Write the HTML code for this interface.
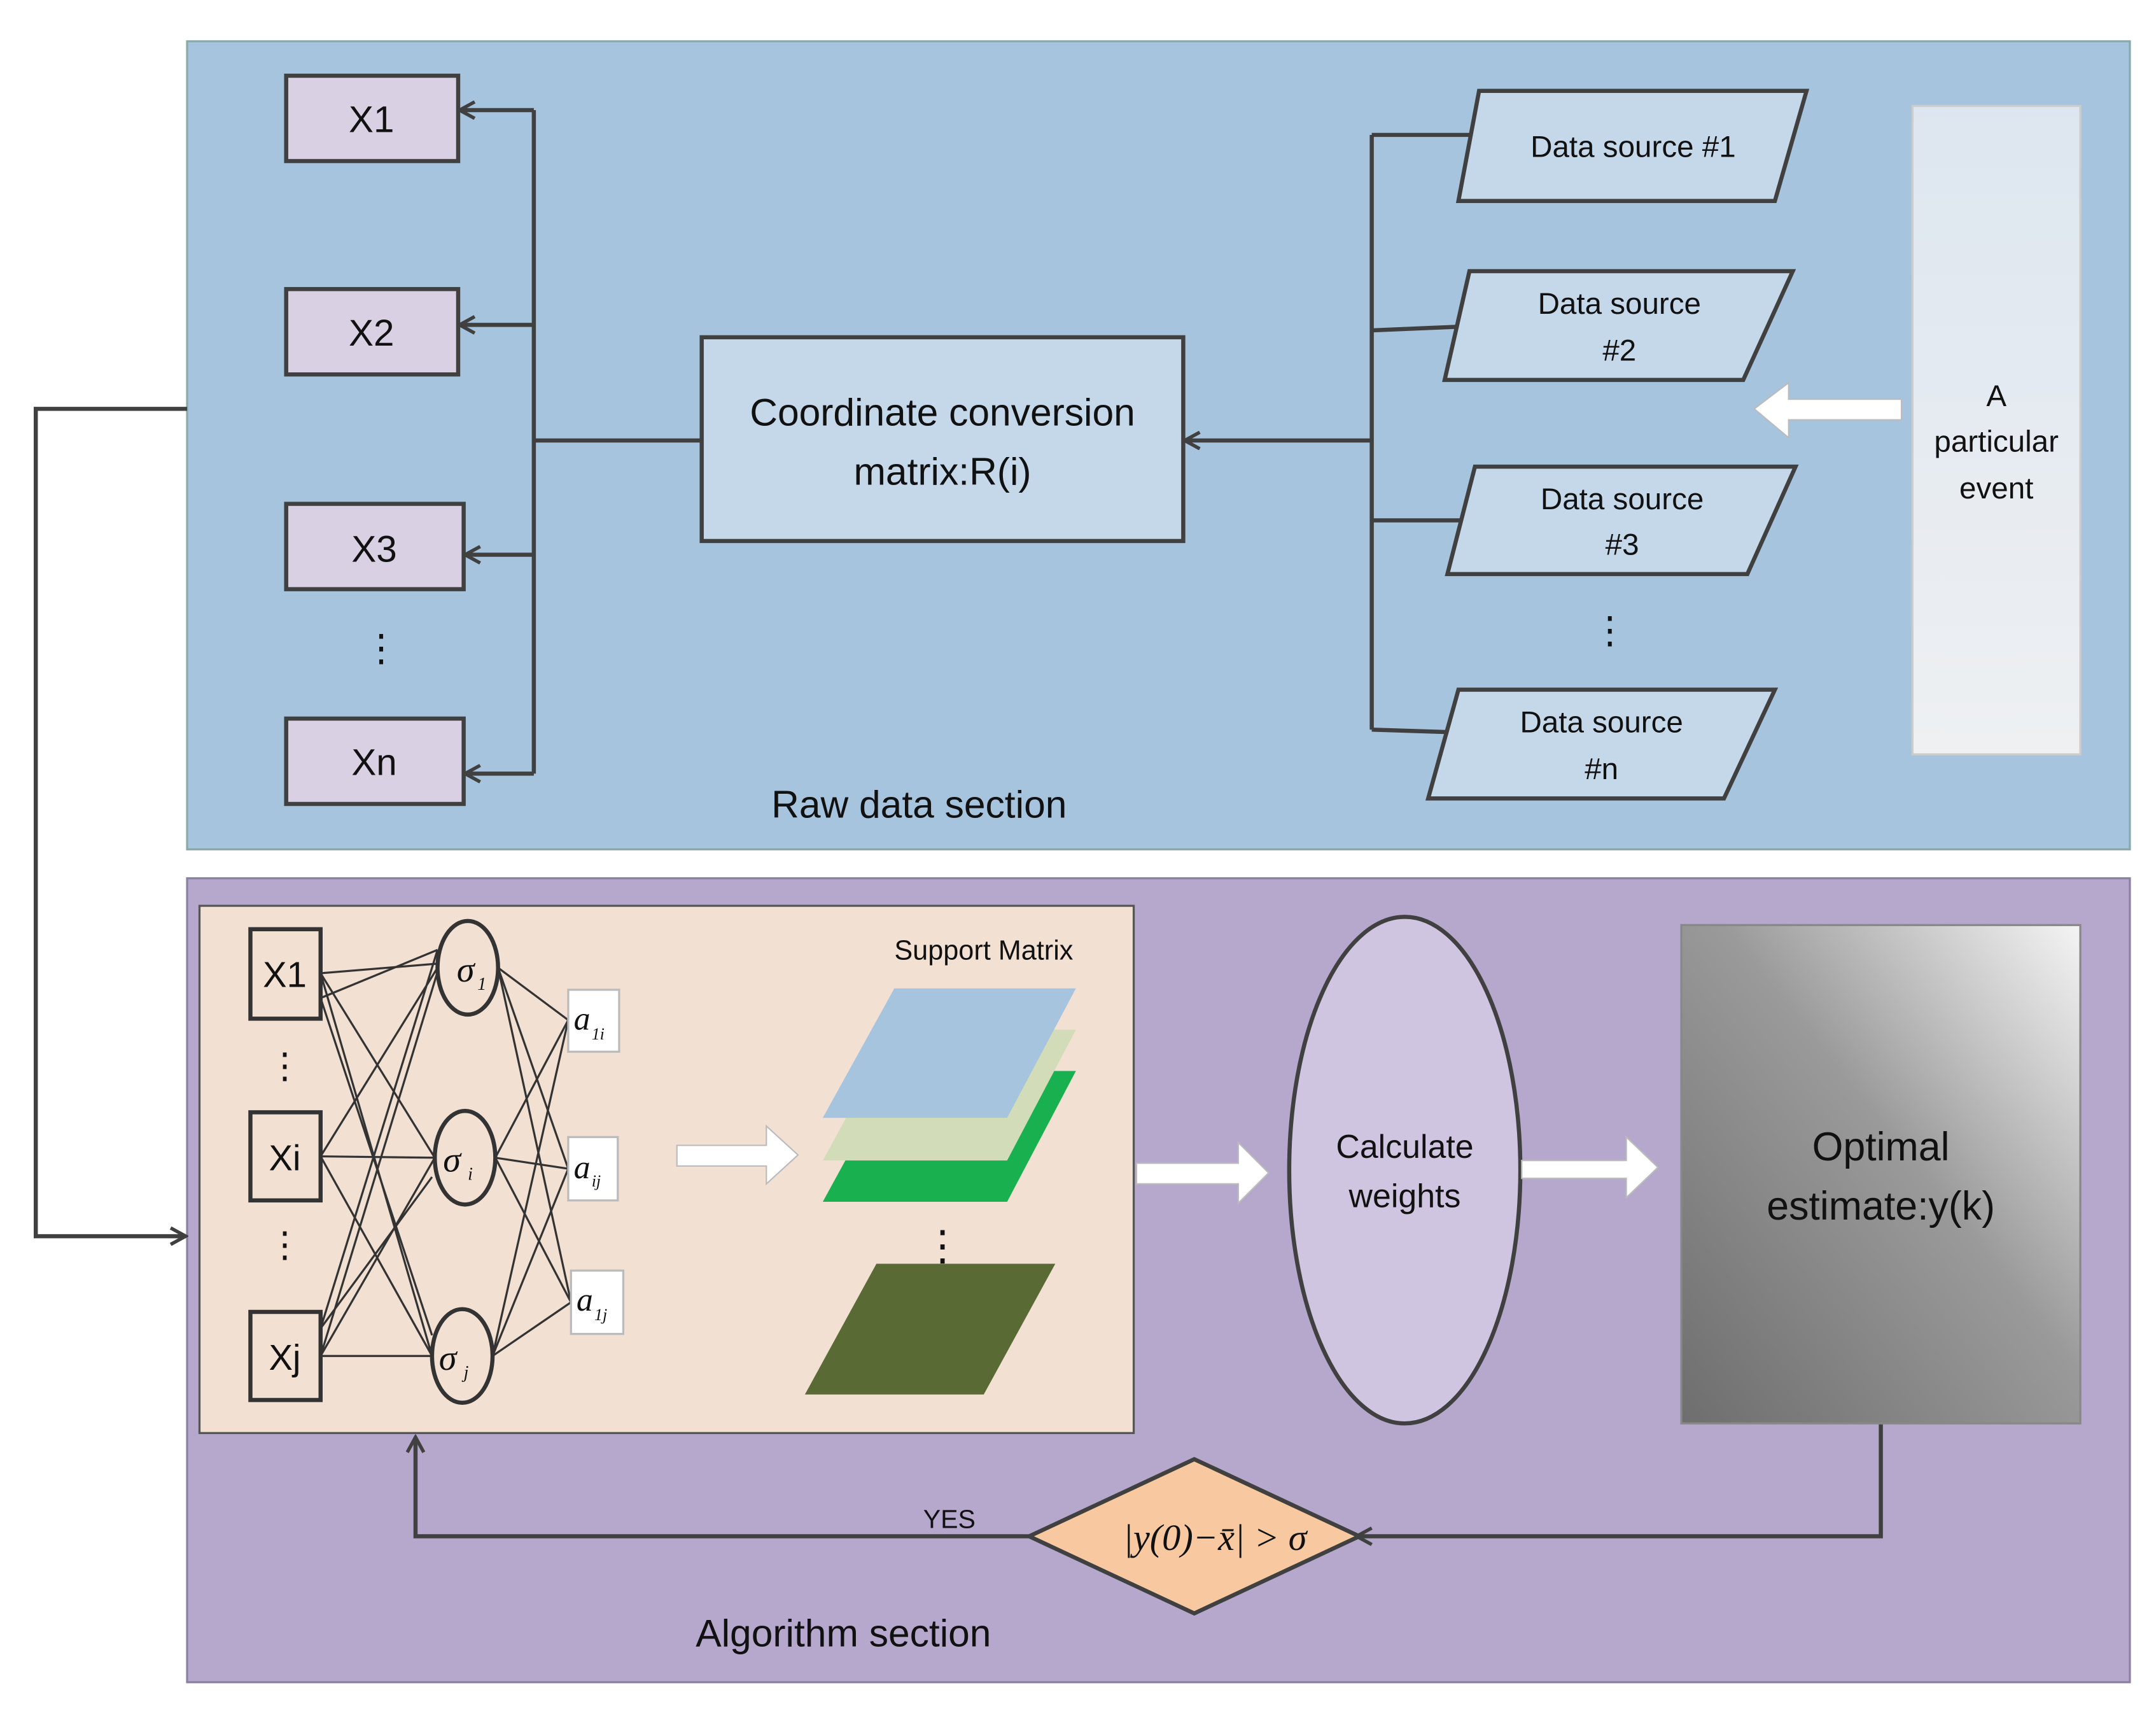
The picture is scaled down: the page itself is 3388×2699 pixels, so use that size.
<!DOCTYPE html>
<html><head><meta charset="utf-8"><style>html,body{margin:0;padding:0;background:#fff}svg{display:block}</style></head>
<body>
<svg width="3388" height="2699" viewBox="0 0 1567 1248" preserveAspectRatio="none" xmlns="http://www.w3.org/2000/svg" font-family="Liberation Sans, sans-serif">
<defs>
<linearGradient id="ev" x1="0" y1="0" x2="0" y2="1"><stop offset="0" stop-color="#dde6f0"/><stop offset="1" stop-color="#eef0f2"/></linearGradient>
<linearGradient id="op" x1="1" y1="0" x2="0" y2="1"><stop offset="0" stop-color="#f4f4f4"/><stop offset="0.45" stop-color="#9a9a9a"/><stop offset="1" stop-color="#6e6e6e"/></linearGradient>
<marker id="ah" markerWidth="14" markerHeight="14" refX="12" refY="7" orient="auto" markerUnits="userSpaceOnUse"><path d="M1,1 L12,7 L1,13" fill="none" stroke="#404040" stroke-width="2.5"/></marker>
</defs>
<rect x="136" y="30" width="1412" height="587" fill="#a7c4de" stroke="#8aa" stroke-width="1.5"/>
<rect x="136" y="638" width="1412" height="584" fill="#b5a8cc" stroke="#8a80a0" stroke-width="1.5"/>
<g stroke="#404040" stroke-width="3" fill="none">
<line x1="388" y1="80" x2="388" y2="562"/>
<line x1="388" y1="80" x2="334" y2="80" marker-end="url(#ah)"/>
<line x1="388" y1="236" x2="334" y2="236" marker-end="url(#ah)"/>
<line x1="388" y1="403" x2="338" y2="403" marker-end="url(#ah)"/>
<line x1="388" y1="562" x2="338" y2="562" marker-end="url(#ah)"/>
<line x1="388" y1="320" x2="510" y2="320"/>
<line x1="997" y1="320" x2="861" y2="320" marker-end="url(#ah)"/>
<line x1="997" y1="98" x2="997" y2="530"/>
<line x1="997" y1="98" x2="1075" y2="98"/>
<line x1="997" y1="240" x2="1068" y2="237"/>
<line x1="997" y1="378" x2="1070" y2="378"/>
<line x1="997" y1="530" x2="1058" y2="532"/>
<polyline points="136,297 26,297 26,898 135,898" marker-end="url(#ah)"/>
<polyline points="1367,1034 1367,1116 986,1116" marker-end="url(#ah)"/>
<polyline points="748,1116 302,1116 302,1044" marker-end="url(#ah)"/>
</g>
<g fill="#d9d0e3" stroke="#404040" stroke-width="3">
<rect x="208" y="55" width="125" height="62"/><rect x="208" y="210" width="125" height="62"/>
<rect x="208" y="366" width="129" height="62"/><rect x="208" y="522" width="129" height="62"/>
</g>
<g font-size="27" text-anchor="middle" fill="#111">
<text x="270" y="96">X1</text><text x="270" y="251">X2</text><text x="272" y="408">X3</text><text x="272" y="563">Xn</text>
<text x="277" y="480">⋮</text><text x="1170" y="467">⋮</text>
</g>
<rect x="510" y="245" width="350" height="148" fill="#c5d8ea" stroke="#404040" stroke-width="3"/>
<text x="685" y="309" font-size="28" text-anchor="middle" fill="#111">Coordinate conversion</text>
<text x="685" y="352" font-size="28" text-anchor="middle" fill="#111">matrix:R(i)</text>
<g fill="#c5d8ea" stroke="#404040" stroke-width="3">
<polygon points="1075,66 1313,66 1290,146 1060,146"/>
<polygon points="1068,197 1303,197 1267,276 1050,276"/>
<polygon points="1072,339 1305,339 1270,417 1052,417"/>
<polygon points="1060,501 1290,501 1253,580 1038,580"/>
</g>
<g font-size="22" text-anchor="middle" fill="#111">
<text x="1187" y="114">Data source #1</text>
<text x="1177" y="228">Data source</text><text x="1177" y="262">#2</text>
<text x="1179" y="370">Data source</text><text x="1179" y="403">#3</text>
<text x="1164" y="532">Data source</text><text x="1164" y="566">#n</text>
</g>
<rect x="1390" y="77" width="122" height="471" fill="url(#ev)" stroke="#ccc" stroke-width="1.5"/>
<g font-size="22" text-anchor="middle" fill="#111">
<text x="1451" y="295">A</text><text x="1451" y="328">particular</text><text x="1451" y="362">event</text>
</g>
<polygon points="1382,290 1300,290 1300,278 1275,297 1300,318 1300,305 1382,305" fill="#fff" stroke="#bbb" stroke-width="1"/>
<text x="668" y="594" font-size="28" text-anchor="middle" fill="#111">Raw data section</text>

<rect x="145" y="658" width="679" height="383" fill="#f2e0d3" stroke="#555" stroke-width="1.5"/>
<g stroke="#333" stroke-width="1.5">
<line x1="233" y1="707" x2="318" y2="700"/><line x1="233" y1="707" x2="316" y2="841"/><line x1="233" y1="707" x2="314" y2="985"/>
<line x1="233" y1="840" x2="318" y2="703"/><line x1="233" y1="840" x2="316" y2="841"/><line x1="233" y1="840" x2="314" y2="985"/>
<line x1="233" y1="985" x2="318" y2="706"/><line x1="233" y1="985" x2="316" y2="841"/><line x1="233" y1="985" x2="314" y2="985"/>
<line x1="233" y1="725" x2="318" y2="690"/><line x1="233" y1="725" x2="314" y2="970"/>
<line x1="233" y1="965" x2="318" y2="690"/><line x1="233" y1="965" x2="314" y2="855"/>
<line x1="362" y1="703" x2="413" y2="741"/><line x1="362" y1="703" x2="413" y2="849"/><line x1="362" y1="703" x2="415" y2="946"/>
<line x1="360" y1="841" x2="413" y2="741"/><line x1="360" y1="841" x2="413" y2="849"/><line x1="360" y1="841" x2="415" y2="946"/>
<line x1="358" y1="985" x2="413" y2="741"/><line x1="358" y1="985" x2="413" y2="849"/><line x1="358" y1="985" x2="415" y2="946"/>
</g>
<g fill="#f2e0d3" stroke="#333" stroke-width="3">
<rect x="182" y="675" width="51" height="65"/><rect x="182" y="808" width="51" height="64"/><rect x="182" y="953" width="51" height="64"/>
<ellipse cx="340" cy="703" rx="22" ry="34"/><ellipse cx="338" cy="841" rx="22" ry="34"/><ellipse cx="336" cy="985" rx="22" ry="34"/>
</g>
<g fill="#fff" stroke="#bbb" stroke-width="1.5">
<rect x="413" y="719" width="37" height="45"/><rect x="413" y="826" width="36" height="46"/><rect x="415" y="923" width="38" height="46"/>
</g>
<g font-size="26" text-anchor="middle" fill="#111">
<text x="207" y="717">X1</text><text x="207" y="850">Xi</text><text x="207" y="995">Xj</text>
<text x="207" y="783">⋮</text><text x="207" y="913">⋮</text>
</g>
<g font-family="Liberation Serif, serif" font-style="italic" fill="#111">
<text x="332" y="713" font-size="26">σ</text><text x="347" y="719" font-size="13">1</text>
<text x="322" y="851" font-size="26">σ</text><text x="340" y="857" font-size="13">i</text>
<text x="319" y="995" font-size="26">σ</text><text x="337" y="1001" font-size="13">j</text>
<text x="417" y="748" font-size="24">a</text><text x="430" y="755" font-size="12">1i</text>
<text x="417" y="856" font-size="24">a</text><text x="430" y="862" font-size="12">ij</text>
<text x="419" y="952" font-size="24">a</text><text x="432" y="959" font-size="12">1j</text>
</g>
<polygon points="492,832 557,832 557,818 580,839 557,860 557,847 492,847" fill="#fff" stroke="#bbb" stroke-width="1"/>
<text x="715" y="697" font-size="20" text-anchor="middle" fill="#111">Support Matrix</text>
<polygon points="598,873 650,778 782,778 732,873" fill="#19b04f"/>
<polygon points="598,843 650,748 782,748 732,843" fill="#d3dcb8"/>
<polygon points="598,812 650,718 782,718 732,812" fill="#a7c4de"/>
<polygon points="585,1013 637,918 767,918 715,1013" fill="#5a6a35"/>
<text x="685" y="915" font-size="30" text-anchor="middle" fill="#111">⋮</text>
<polygon points="826,845 900,845 900,830 922,852 900,874 900,860 826,860" fill="#fff" stroke="#bbb" stroke-width="1"/>
<ellipse cx="1021" cy="850" rx="84" ry="184" fill="#cfc5e0" stroke="#404040" stroke-width="3"/>
<text x="1021" y="841" font-size="24" text-anchor="middle" fill="#111">Calculate</text>
<text x="1021" y="877" font-size="24" text-anchor="middle" fill="#111">weights</text>
<polygon points="1106,843 1182,843 1182,826 1205,848 1182,870 1182,856 1106,856" fill="#fff" stroke="#bbb" stroke-width="1"/>
<rect x="1222" y="672" width="290" height="362" fill="url(#op)" stroke="#888" stroke-width="1.5"/>
<text x="1367" y="843" font-size="29" text-anchor="middle" fill="#111">Optimal</text>
<text x="1367" y="886" font-size="29" text-anchor="middle" fill="#111">estimate:y(k)</text>
<polygon points="748,1116 868,1060 988,1116 868,1172" fill="#f8c9a0" stroke="#404040" stroke-width="3"/>
<text x="883" y="1126" font-size="27" text-anchor="middle" font-family="Liberation Serif, serif" font-style="italic" fill="#111">|y(0)−x̄| &gt; σ</text>
<text x="690" y="1110" font-size="19" text-anchor="middle" fill="#111">YES</text>
<text x="613" y="1196" font-size="28" text-anchor="middle" fill="#111">Algorithm section</text>
</svg>
</body></html>
